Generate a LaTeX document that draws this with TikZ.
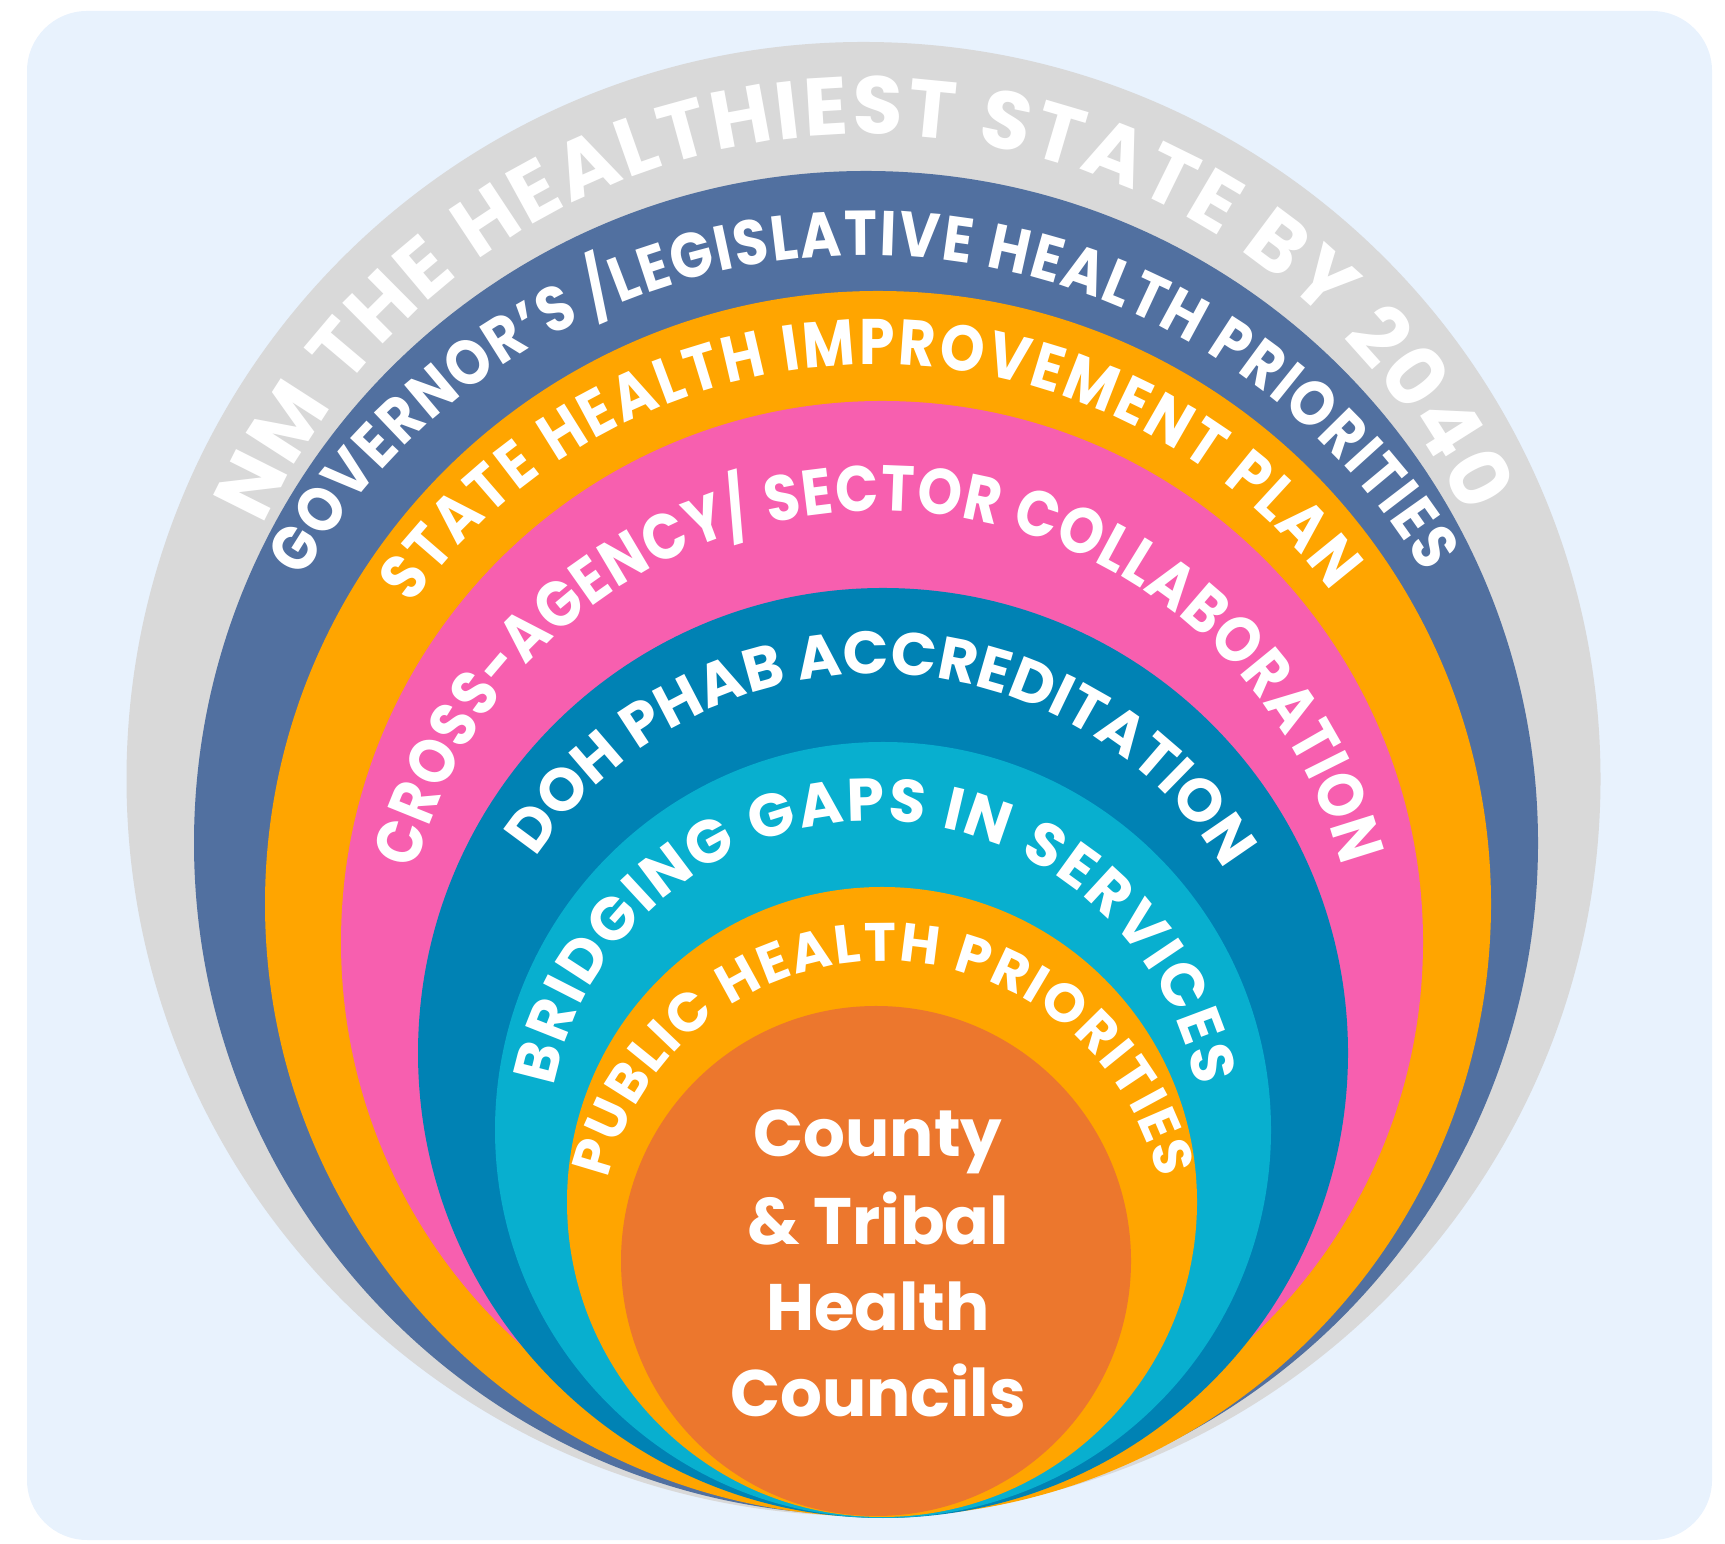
\documentclass[tikz,border=0pt]{standalone}
\usepackage{fontspec}
\setmainfont{Poppins}
\newfontfamily\ringfont{Poppins}
\newfontfamily\ringnarrow{Poppins}[FakeStretch=0.88]
\usetikzlibrary{decorations.text}

\definecolor{panelbg}{RGB}{232,242,253}
\definecolor{ringgray}{RGB}{217,217,217}
\definecolor{ringblue}{RGB}{81,112,160}
\definecolor{ringorange}{RGB}{255,165,0}
\definecolor{ringpink}{RGB}{247,95,175}
\definecolor{ringteal}{RGB}{0,130,180}
\definecolor{ringcyan}{RGB}{8,175,207}
\definecolor{coreorange}{RGB}{236,119,45}

\newcommand{\wideface}[1]{\ringfont\fontsize{#1}{#1}\selectfont\bfseries}
\newcommand{\narrowface}[1]{\ringnarrow\fontsize{#1}{#1}\selectfont\bfseries}

% #1,#2 centre, #3 radius, #4/#5 start/end angle, #6 face, #7 text
\newcommand{\ringtext}[7]{%
  \path[decorate,decoration={text along path,text align={fit to path},
      text color=white,text={|#6|#7}}]
    (#1,#2) ++(#4:#3) arc [start angle=#4, end angle=#5, radius=#3];}

\tikzset{corelabel/.style={text=white,anchor=base,inner sep=0pt,
    font=\fontsize{18.7pt}{18.7pt}\selectfont\bfseries}}

\begin{document}
\begin{tikzpicture}[x=0.01cm,y=0.01cm]
        \useasboundingbox (0,0) rectangle (1725,1543);
        \fill[panelbg,rounded corners=0.6cm] (27,3) rectangle (1712,1532);
        \foreach \cx/\cy/\r/\col in {863.5/764/737/ringgray,866/700/672/ringblue,
            878/639/613/ringorange,882/601/541/ringpink,883/490/465/ringteal,
            883/413/388/ringcyan,882/341/315/ringorange,876/282/255/coreorange}
        \fill[\col] (\cx,\cy) circle [radius=\r];
        \ringtext{866}{748.5}{660}{156}{25}{\wideface{23.2pt}}{NM THE HEALTHIEST STATE BY 2040}
        \ringtext{865}{636}{651.5}{149.7}{30.8}{\narrowface{18pt}}{GOVERNOR’S /LEGISLATIVE HEALTH PRIORITIES}
        \ringtext{876}{608.4}{570}{144.6}{37}{\narrowface{18.3pt}}{STATE HEALTH IMPROVEMENT PLAN}
        \ringtext{879}{553.5}{478.5}{165.5}{14.9}{\narrowface{18.3pt}}{CROSS-AGENCY/ SECTOR COLLABORATION}
        \ringtext{876.5}{461}{408}{146.6}{33}{\wideface{17.1pt}}{DOH PHAB ACCREDITATION}
        \ringtext{875}{395}{327}{169.1}{10.9}{\wideface{17.1pt}}{BRIDGING GAPS IN SERVICES}
        \ringtext{883}{299}{283}{166.7}{13.3}{\wideface{15.4pt}}{PUBLIC HEALTH PRIORITIES}
        \node[corelabel] (county) at (878,386) {County};
        \node[corelabel] (tribal) at (878,298) {\& Tribal};
        \node[corelabel] (health) at (878,212) {Health};
        \node[corelabel] (councils) at (878,126) {Councils};
    \end{tikzpicture}
\end{document}
